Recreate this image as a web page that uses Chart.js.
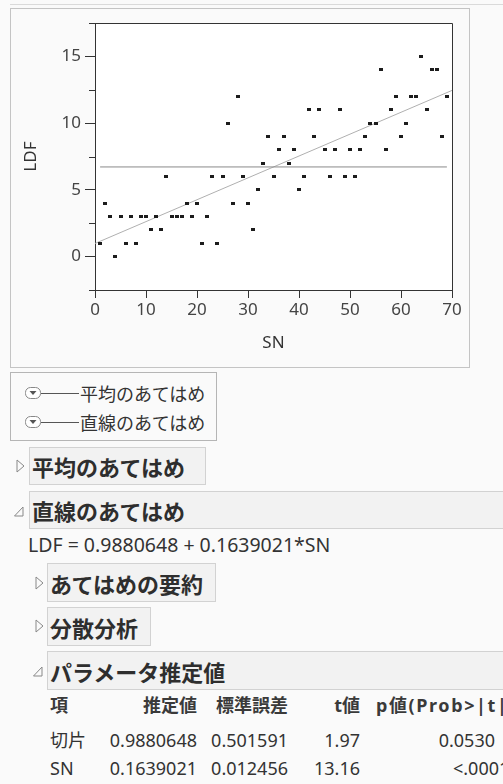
<!DOCTYPE html>
<html><head><meta charset="utf-8">
<script src="https://cdn.jsdelivr.net/npm/chart.js@4/dist/chart.umd.min.js"></script>
<style>
html,body{margin:0;padding:0;background:#fafafa;width:503px;height:784px;overflow:hidden;position:relative;font-family:"Noto Sans","Noto Sans CJK JP",sans-serif;color:#333;}
.abs{position:absolute;}
#topline{left:10px;top:4px;width:493px;height:1px;background:#dadada;}
#frame{left:10px;top:8px;width:460px;height:360px;border:1px solid #c4c4c4;box-sizing:border-box;}
#chartwrap{left:11px;top:9px;width:457px;height:358px;}
#legend{left:10px;top:372px;width:207px;height:69px;border:1px solid #b5b5b5;box-sizing:border-box;}
.lrow{position:absolute;left:14px;height:24px;display:flex;align-items:center;font-size:18px;font-family:"Noto Sans CJK JP",sans-serif;color:#333;}
.hbox{position:absolute;background:#f2f2f2;border:1px solid #d2d2d2;box-sizing:border-box;display:flex;align-items:center;padding-left:2px;font-weight:bold;font-size:22px;font-family:"Noto Sans CJK JP",sans-serif;color:#2e2e2e;white-space:nowrap;}
.tri{position:absolute;}
.cell{position:absolute;font-size:18px;white-space:nowrap;line-height:24px;height:24px;color:#333;}
.r{text-align:right;}
.hd{font-weight:bold;color:#3a3a3a;}
</style>
</head><body>
<div id="topline" class="abs"></div>
<div id="frame" class="abs"></div>
<div id="chartwrap" class="abs"><canvas id="c" width="457" height="358"></canvas></div>

<div id="legend" class="abs">
  <div class="lrow" style="top:8px;">
    <svg width="66" height="14"><rect x="0.5" y="1.5" width="15" height="11" rx="5" ry="5" fill="#fff" stroke="#888"/><polygon points="4.5,5 11.5,5 8,9" fill="#555"/><line x1="16" y1="7.5" x2="54" y2="7.5" stroke="#555" stroke-width="1"/></svg><span style="margin-left:-11px">平均のあてはめ</span>
  </div>
  <div class="lrow" style="top:37px;">
    <svg width="66" height="14"><rect x="0.5" y="1.5" width="15" height="11" rx="5" ry="5" fill="#fff" stroke="#888"/><polygon points="4.5,5 11.5,5 8,9" fill="#555"/><line x1="16" y1="7.5" x2="54" y2="7.5" stroke="#555" stroke-width="1"/></svg><span style="margin-left:-11px">直線のあてはめ</span>
  </div>
</div>

<svg class="tri" style="left:16px;top:459px" width="10" height="14"><polygon points="1,1 8,7 1,13" fill="none" stroke="#888"/></svg>
<div class="hbox" style="left:29px;top:447px;width:177px;height:38px;">平均のあてはめ</div>
<svg class="tri" style="left:14px;top:506px" width="10" height="12"><polygon points="9,1 9,10 0.5,10" fill="none" stroke="#888"/></svg>
<div class="hbox" style="left:29px;top:491px;width:490px;height:38px;">直線のあてはめ</div>
<div class="cell" style="left:28px;top:533px;font-size:19.5px;">LDF = 0.9880648 + 0.1639021*SN</div>

<svg class="tri" style="left:35px;top:576px" width="10" height="14"><polygon points="1,1 8,7 1,13" fill="none" stroke="#888"/></svg>
<div class="hbox" style="left:47px;top:563px;width:169px;height:39px;">あてはめの要約</div>
<svg class="tri" style="left:35px;top:619px" width="10" height="14"><polygon points="1,1 8,7 1,13" fill="none" stroke="#888"/></svg>
<div class="hbox" style="left:47px;top:607px;width:104px;height:39px;">分散分析</div>
<svg class="tri" style="left:33px;top:666px" width="10" height="12"><polygon points="9,1 9,10 0.5,10" fill="none" stroke="#888"/></svg>
<div class="hbox" style="left:47px;top:651px;width:490px;height:39px;">パラメータ推定値</div>

<div id="table"></div>

<script>
// ---- data ----
const snValues  = [1,2,3,4,5,6,7,8,9,10,11,12,13,14,15,16,17,18,19,20,21,22,23,24,25,26,27,28,29,30,31,32,33,34,35,36,37,38,39,40,41,42,43,44,45,46,47,48,49,50,51,52,53,54,55,56,57,58,59,60,61,62,63,64,65,66,67,68,69];
const ldfValues = [1,4,3,0,3,1,3,1,3,3,2,3,2,6,3,3,3,4,3,4,1,3,6,1,6,10,4,12,6,4,2,5,7,9,6,8,9,7,8,5,6,11,9,11,8,6,8,11,6,8,6,8,9,10,10,14,8,11,12,9,10,12,12,15,11,14,14,9,12];
const fitIntercept = 0.9880648;
const fitSlope = 0.1639021;
const xTickValues = [0,10,20,30,40,50,60,70];
const yTickLabels = [0,5,10,15];
const xRange = [0,70];
const yRange = [-2.5,17.5];

const tableHeader = ["項","推定値","標準誤差","t値","p値(Prob>|t|)"];
const tableTerms = ["切片","SN"];
const tableEstimate = ["0.9880648","0.1639021"];
const tableStdErr = ["0.501591","0.012456"];
const tableT = ["1.97","13.16"];
const tableP = ["0.0530","<.0001*"];

// ---- table ----
(function(){
  const t = document.getElementById('table');
  const rowsTop = [693, 728, 756];
  function cell(txt, left, width, top, cls){
    const d = document.createElement('div');
    d.className = 'cell ' + (cls||'');
    d.style.left = left + 'px'; d.style.top = top + 'px';
    if (width) d.style.width = width + 'px';
    d.textContent = txt; t.appendChild(d);
    return d;
  }
  cell(tableHeader[0], 50, 0, rowsTop[0], 'hd');
  cell(tableHeader[1], 97, 100, rowsTop[0], 'hd r');
  cell(tableHeader[2], 188, 100, rowsTop[0], 'hd r');
  cell(tableHeader[3], 300, 60, rowsTop[0], 'hd r');
  const ph = cell(tableHeader[4], 376, 0, rowsTop[0], 'hd');
  ph.style.letterSpacing = '1.6px';
  for (let i=0;i<tableTerms.length;i++){
    const top = rowsTop[i+1];
    cell(tableTerms[i], 50, 0, top, '');
    cell(tableEstimate[i], 97, 100, top, 'r');
    cell(tableStdErr[i], 188, 100, top, 'r');
    cell(tableT[i], 300, 60, top, 'r');
    if (i===1) cell(tableP[i], 453, 0, top, '');
    else cell(tableP[i], 395, 100, top, 'r');
  }
})();

// ---- chart ----
const meanLDF = ldfValues.reduce((a,b)=>a+b,0)/ldfValues.length;
const pts = snValues.map((x,i)=>({x:x, y:ldfValues[i]}));
const meanLine = [{x:snValues[0], y:meanLDF},{x:snValues[snValues.length-1], y:meanLDF}];
const fitLine = [{x:xRange[0], y:fitIntercept+fitSlope*xRange[0]},{x:xRange[1], y:fitIntercept+fitSlope*xRange[1]}];

const mark = document.createElement('canvas');
mark.width = 4; mark.height = 3;
const mctx = mark.getContext('2d'); mctx.fillStyle = '#1c1c1c'; mctx.fillRect(0,0,4,3);

const FONT = '"Noto Sans","DejaVu Sans",sans-serif';

const areaPlugin = {
  id:'area',
  beforeDraw(chart){
    const {ctx, chartArea:a} = chart;
    ctx.save(); ctx.fillStyle = '#ffffff';
    ctx.fillRect(a.left, a.top, a.right-a.left, a.bottom-a.top);
    ctx.restore();
  },
  afterDraw(chart){
    const {ctx, chartArea:a, scales:{y}} = chart;
    ctx.save();
    ctx.strokeStyle = '#333'; ctx.lineWidth = 1;
    ctx.beginPath();
    ctx.moveTo(a.left, Math.round(a.top)+0.5);
    ctx.lineTo(Math.round(a.right)+0.5, Math.round(a.top)+0.5);
    ctx.lineTo(Math.round(a.right)+0.5, a.bottom);
    y.ticks.forEach(t=>{
      if (!yTickLabels.includes(t.value)) {
        const py = Math.round(y.getPixelForValue(t.value))+0.5;
        ctx.moveTo(a.left-6, py); ctx.lineTo(a.left, py);
      }
    });
    ctx.stroke();
    ctx.restore();
  }
};

new Chart(document.getElementById('c'), {
  type:'scatter',
  data:{datasets:[
    {data:meanLine, showLine:true, borderColor:'#8a8a8a', borderWidth:1, pointRadius:0, order:2},
    {data:fitLine, showLine:true, borderColor:'#b0b0b0', borderWidth:1, pointRadius:0, order:3},
    {data:pts, pointStyle:mark, pointRadius:2, borderWidth:0, backgroundColor:'#1c1c1c', order:1}
  ]},
  options:{
    responsive:false, animation:false, devicePixelRatio:1,
    layout:{padding:{top:11,right:16,left:0,bottom:0}},
    plugins:{legend:{display:false}, tooltip:{enabled:false}},
    scales:{
      x:{type:'linear', position:'bottom', min:xRange[0], max:xRange[1],
        afterBuildTicks:s=>{ s.ticks = xTickValues.map(v=>({value:v})); },
        grid:{drawOnChartArea:false, tickLength:8, color:'#333', lineWidth:1},
        border:{color:'#333', width:1},
        ticks:{font:{size:17, family:FONT}, color:'#444', padding:2, maxRotation:0, autoSkip:false},
        title:{display:true, text:'SN', font:{size:17, family:FONT}, color:'#333', padding:{top:0,bottom:14}},
        afterFit:s=>{ s.height = 77; }
      },
      y:{type:'linear', position:'left', min:yRange[0], max:yRange[1],
        ticks:{stepSize:2.5, font:{size:17, family:FONT}, color:'#444', padding:4,
          callback:v=> yTickLabels.includes(v) ? String(v) : ''},
        grid:{drawOnChartArea:false, tickLength:10, lineWidth:1,
          tickColor:c=> (c.tick && yTickLabels.includes(c.tick.value)) ? '#333' : 'rgba(0,0,0,0)'},
        border:{color:'#333', width:1},
        title:{display:true, text:'LDF', font:{size:17, family:FONT}, color:'#333', padding:{top:10,bottom:0}},
        afterFit:s=>{ s.width = 84; }
      }
    }
  },
  plugins:[areaPlugin]
});
</script>
</body></html>
